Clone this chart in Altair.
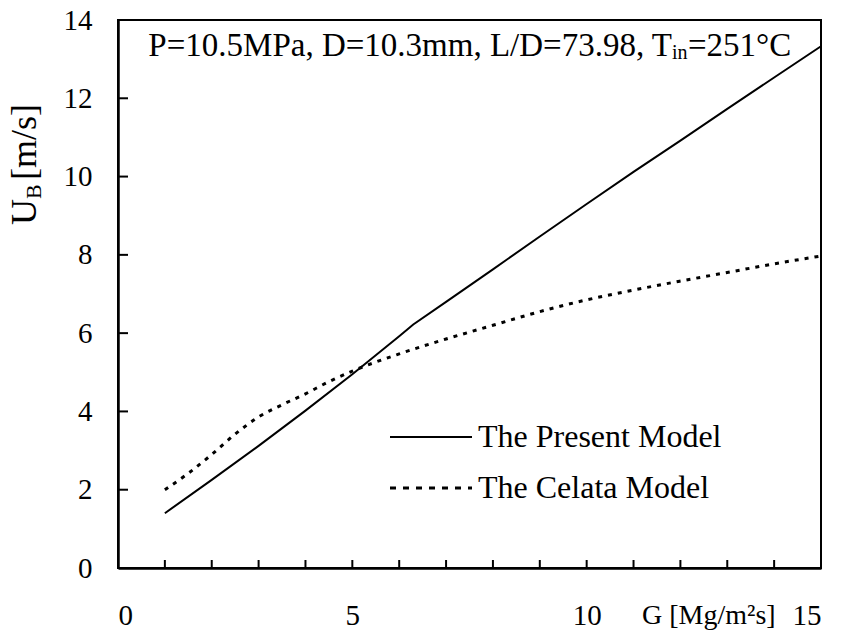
import altair as alt
import pandas as pd

# Bubble velocity U_B versus mass flux G
present_g = [1, 2, 3, 4, 5, 6, 6.3, 7, 8, 9, 10, 11, 12, 13, 14, 15]
present_u = [1.40, 2.25, 3.12, 4.02, 4.95, 5.92, 6.22, 6.80, 7.63, 8.47, 9.30,
             10.12, 10.92, 11.73, 12.53, 13.33]

celata_g = [1, 1.5, 2, 2.5, 3, 3.5, 4, 4.5, 5, 6, 7, 8, 9, 10, 11, 12, 13, 14, 15]
celata_u = [2.0, 2.42, 2.9, 3.42, 3.86, 4.17, 4.45, 4.76, 5.03, 5.47, 5.85,
            6.2, 6.55, 6.85, 7.1, 7.33, 7.55, 7.77, 7.97]

x_tick_values = list(range(1, 15))
y_tick_values = [2, 4, 6, 8, 10, 12]
x_label_values = [0, 5, 10, 15]
y_label_values = [0, 2, 4, 6, 8, 10, 12, 14]

W, H = 703, 548
FONT = "'Liberation Serif', 'Times New Roman', serif"

present = pd.DataFrame({"G": present_g, "U": present_u})
celata = pd.DataFrame({"G": celata_g, "U": celata_u})

xs = alt.Scale(domain=[0, 15], nice=False, zero=False)
ys = alt.Scale(domain=[0, 14], nice=False, zero=False)

x_axis = alt.Axis(values=x_label_values, ticks=False, tickSize=0, grid=False,
                  labelPadding=33, labelFontSize=29, labelFont=FONT,
                  labelColor="black", domainColor="black", domainWidth=2.5,
                  title=None)
y_axis = alt.Axis(values=y_label_values, ticks=False, tickSize=0, grid=False,
                  labelPadding=26, labelFontSize=29, labelFont=FONT,
                  labelColor="black", domainColor="black", domainWidth=2.5,
                  title=None)

present_line = alt.Chart(present).mark_line(color="black", strokeWidth=2).encode(
    x=alt.X("G:Q", scale=xs, axis=x_axis),
    y=alt.Y("U:Q", scale=ys, axis=y_axis),
)

celata_line = alt.Chart(celata).mark_line(
    color="black", strokeWidth=3, strokeDash=[4, 6], strokeCap="butt",
    interpolate="monotone"
).encode(x=alt.X("G:Q", scale=xs), y=alt.Y("U:Q", scale=ys))

# inward tick marks
x_ticks = alt.Chart(pd.DataFrame({"G": x_tick_values})).mark_rule(
    color="black", strokeWidth=2
).encode(x=alt.X("G:Q", scale=xs), y=alt.value(H), y2=alt.value(H - 8))

y_ticks = alt.Chart(pd.DataFrame({"U": y_tick_values})).mark_rule(
    color="black", strokeWidth=2
).encode(y=alt.Y("U:Q", scale=ys), x=alt.value(0), x2=alt.value(10))

one = pd.DataFrame({"k": [0]})


def label(text, x, y, size, align="left", baseline="middle", angle=0):
    return alt.Chart(one).mark_text(
        text=text, font=FONT, fontSize=size, color="black",
        align=align, baseline=baseline, angle=angle
    ).encode(x=alt.value(x), y=alt.value(y))


# parameter annotation
note = [
    label("P=10.5MPa, D=10.3mm, L/D=73.98, T", 554, 26, 33, align="right"),
    label("in", 554, 33, 20),
    label("=251°C", 570, 26, 33),
]

# legend
legend_solid = alt.Chart(one).mark_rule(color="black", strokeWidth=2).encode(
    x=alt.value(272), x2=alt.value(354), y=alt.value(417)
)
legend_dash = alt.Chart(one).mark_rule(
    color="black", strokeWidth=3, strokeDash=[6, 7], strokeCap="butt"
).encode(x=alt.value(272), x2=alt.value(354), y=alt.value(468))
legend_text = [
    label("The Present Model", 360, 417, 32),
    label("The Celata Model", 360, 468, 32),
]

# axis titles
x_title = label("G [Mg/m²s]", 524, 596, 28)
y_title = [
    label("U", -82, 205, 36, baseline="alphabetic", angle=270),
    label("B", -77, 179, 22, baseline="alphabetic", angle=270),
    label("[m/s]", -82, 160, 36, baseline="alphabetic", angle=270),
]

chart = alt.layer(
    present_line, celata_line, x_ticks, y_ticks,
    *note, legend_solid, legend_dash, *legend_text, x_title, *y_title
).properties(
    width=W, height=H,
    autosize=alt.AutoSizeParams(type="none"),
    padding={"left": 118, "top": 20, "right": 20, "bottom": 68},
).configure(font=FONT).configure_view(stroke="black", strokeWidth=2)

chart.save("out.html", embed_options={"renderer": "svg", "actions": False})
